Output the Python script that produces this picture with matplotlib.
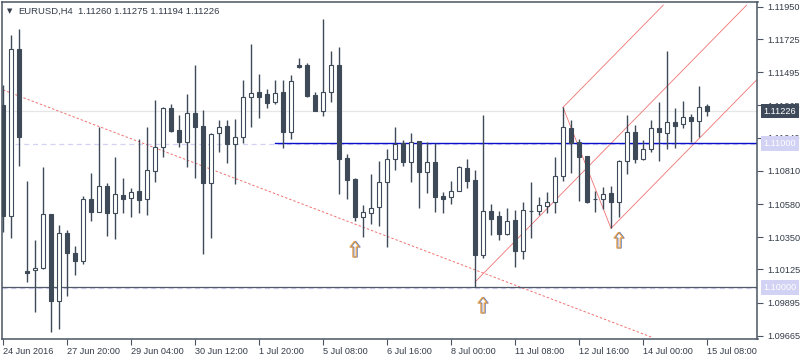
import matplotlib
matplotlib.use("Agg")
import matplotlib.pyplot as plt
import matplotlib.transforms as mtransforms
import numpy as np

# EURUSD H4 candles, 24 Jun 12:00 -> 15 Jul 08:00
opens = [1.11268, 1.10499, 1.11655, 1.10115, 1.10124, 1.10133, 1.10509, 1.09908, 1.10377, 1.10238,
         1.10186, 1.10613, 1.10527, 1.10705, 1.10520, 1.10643, 1.10620, 1.10671, 1.10613, 1.10812,
         1.10974, 1.11245, 1.11095, 1.11013, 1.11211, 1.11122, 1.10724, 1.11072, 1.11122, 1.10995,
         1.11048, 1.11322, 1.11357, 1.11343, 1.11287, 1.11357, 1.11083, 1.11546, 1.11546, 1.11338,
         1.11229, 1.11361, 1.11546, 1.10898, 1.10754, 1.10492, 1.10520, 1.10557, 1.10735, 1.10891,
         1.11002, 1.10874, 1.11018, 1.10805, 1.10870, 1.10636, 1.10627, 1.10673, 1.10828, 1.10747,
         1.10226, 1.10532, 1.10497, 1.10372, 1.10469, 1.10256, 1.10534, 1.10532, 1.10569, 1.10592,
         1.10775, 1.11111, 1.11013, 1.10914, 1.10615, 1.10613, 1.10655, 1.10592, 1.10879, 1.11079,
         1.10891, 1.10960, 1.11106, 1.11072, 1.11148, 1.11134, 1.11187, 1.11159, 1.11260]
highs = [1.11407, 1.11755, 1.11797, 1.10740, 1.10330, 1.10835, 1.10512, 1.10434, 1.10400, 1.10288,
         1.10636, 1.10798, 1.11113, 1.10728, 1.10907, 1.10763, 1.10694, 1.11030, 1.11118, 1.11303,
         1.11257, 1.11275, 1.11199, 1.11345, 1.11546, 1.11234, 1.11076, 1.11164, 1.11164, 1.11169,
         1.11442, 1.11692, 1.11484, 1.11377, 1.11442, 1.11442, 1.11477, 1.11597, 1.11562, 1.11357,
         1.11866, 1.11644, 1.11669, 1.10926, 1.10759, 1.10573, 1.10789, 1.10879, 1.10963, 1.11118,
         1.11025, 1.11076, 1.11018, 1.11013, 1.11002, 1.10666, 1.10740, 1.10844, 1.10891, 1.10817,
         1.11199, 1.10580, 1.10534, 1.10550, 1.10539, 1.10596, 1.10735, 1.10631, 1.10662, 1.10909,
         1.11257, 1.11164, 1.11030, 1.10914, 1.10671, 1.10701, 1.10705, 1.10886, 1.11199, 1.11129,
         1.11025, 1.11164, 1.11287, 1.11644, 1.11245, 1.11296, 1.11204, 1.11400, 1.11275]
lows = [1.10388, 1.10344, 1.10847, 1.10040, 1.09832, 1.10130, 1.09693, 1.09710, 1.09943, 1.10087,
        1.10163, 1.10464, 1.10525, 1.10358, 1.10337, 1.10516, 1.10488, 1.10520, 1.10504, 1.10735,
        1.10909, 1.11083, 1.10979, 1.10840, 1.10763, 1.10233, 1.10346, 1.10944, 1.10867, 1.10717,
        1.11006, 1.11118, 1.11180, 1.11250, 1.11273, 1.10972, 1.11032, 1.11523, 1.11326, 1.11229,
        1.11192, 1.11291, 1.10650, 1.10615, 1.10464, 1.10353, 1.10441, 1.10430, 1.10284, 1.10817,
        1.10847, 1.10735, 1.10555, 1.10659, 1.10527, 1.10520, 1.10580, 1.10673, 1.10694, 1.10006,
        1.10203, 1.10365, 1.10330, 1.10365, 1.10145, 1.10198, 1.10346, 1.10504, 1.10520, 1.10516,
        1.10742, 1.10794, 1.10603, 1.10589, 1.10527, 1.10543, 1.10411, 1.10488, 1.10787, 1.10867,
        1.10884, 1.10944, 1.10881, 1.10960, 1.10972, 1.11111, 1.11013, 1.11048, 1.11194]
closes = [1.10499, 1.11655, 1.11048, 1.10103, 1.10138, 1.10509, 1.09908, 1.10377, 1.10242, 1.10186,
          1.10613, 1.10527, 1.10705, 1.10520, 1.10650, 1.10615, 1.10666, 1.10608, 1.10817, 1.10974,
          1.11245, 1.11090, 1.11013, 1.11211, 1.11118, 1.10724, 1.11065, 1.11118, 1.10995, 1.11048,
          1.11322, 1.11354, 1.11326, 1.11284, 1.11350, 1.11083, 1.11435, 1.11535, 1.11331, 1.11229,
          1.11357, 1.11546, 1.10893, 1.10747, 1.10492, 1.10523, 1.10550, 1.10735, 1.10891, 1.10997,
          1.10874, 1.11013, 1.10805, 1.10870, 1.10631, 1.10617, 1.10673, 1.10835, 1.10742, 1.10226,
          1.10532, 1.10476, 1.10372, 1.10462, 1.10256, 1.10539, 1.10530, 1.10573, 1.10592, 1.10775,
          1.11113, 1.11002, 1.10909, 1.10596, 1.10612, 1.10648, 1.10592, 1.10879, 1.11079, 1.10891,
          1.10960, 1.11106, 1.11079, 1.11148, 1.11125, 1.11187, 1.11159, 1.11257, 1.11226]

xtick_pos = [0, 8, 16, 24, 32, 40, 48, 56, 64, 72, 80, 88]
xtick_labels = ["24 Jun 2016", "27 Jun 20:00", "29 Jun 04:00", "30 Jun 12:00", "1 Jul 20:00",
                "5 Jul 08:00", "6 Jul 16:00", "8 Jul 00:00", "11 Jul 08:00", "12 Jul 16:00",
                "14 Jul 00:00", "15 Jul 08:00"]
ytick_vals = [1.11950, 1.11725, 1.11495, 1.11265, 1.11040, 1.10810, 1.10580,
              1.10350, 1.10125, 1.09895, 1.09665]

bid = 1.11226
level_hi = 1.11000
level_lo = 1.10000
blue_start = 34

# descending trend line (two anchor points)
trend_x = [0, 81.25]
trend_p = [1.11373, 1.09651]

# pitchfork pivots A, B, C
fork_x = [59, 70, 76]
fork_p = [1.10038, 1.11252, 1.10411]

# up arrows
arrow_x = [44, 60, 77]
arrow_p = [1.10268, 1.09878, 1.10330]

DARK = "#3f4a59"
FRAME = "#4a5561"
TXT = "#333c48"
LAV = "#d2d2f4"
RED = "#f07272"

plt.rcParams["font.family"] = ["Liberation Sans", "DejaVu Sans"]

fig = plt.figure(figsize=(8, 3.6), dpi=100)
ax = fig.add_axes([2 / 800, 21 / 360, 755.5 / 800, 337 / 360])
YMIN, YMAX = 1.09642, 1.11984
XMIN, XMAX = -0.125, 94.31
ax.set_xlim(XMIN, XMAX)
ax.set_ylim(YMIN, YMAX)

# horizontal levels
ax.axhline(bid, color="#e6e6e6", lw=0.9, zorder=1)
ax.plot([1.5, XMAX], [level_hi - 0.00004] * 2, color=LAV, lw=0.9, ls=(0, (4, 3)), zorder=1)
ax.plot([blue_start, XMAX], [level_hi + 0.00004] * 2, color="#0a10c8", lw=1.0, zorder=2)
ax.plot([XMIN, XMAX], [level_lo - 0.00004] * 2, color=LAV, lw=0.9, ls=(0, (4, 3)), zorder=1)
ax.plot([XMIN, XMAX], [level_lo + 0.00004] * 2, color="#505a68", lw=0.9, zorder=2)

# trend line
ax.plot(trend_x, trend_p, color=RED, lw=0.7, ls=(0, (2.5, 2)), zorder=1)

# pitchfork
ax_, bx, cx = fork_x
ap, bp, cp = fork_p
mid_x = (bx + cx) / 2
mid_p = (bp + cp) / 2
slope = (mid_p - ap) / (mid_x - ax_)
top_p = 1.11962


def ray(x0, p0):
    x1 = x0 + (top_p - p0) / slope
    if x1 > XMAX:
        x1 = XMAX
    return [x0, x1], [p0, p0 + slope * (x1 - x0)]


for x0, p0 in [(ax_, ap), (bx, bp), (cx, cp)]:
    xs, ps = ray(x0, p0)
    ax.plot(xs, ps, color=RED, lw=0.6, zorder=1)
ax.plot([bx, cx], [bp, cp], color=RED, lw=0.6, zorder=1)

# candles
x = np.arange(len(opens))
o = np.array(opens)
c = np.array(closes)
ax.vlines(x, lows, highs, color=DARK, lw=1.0, zorder=3)
bottoms = np.minimum(o, c)
heights = np.maximum(np.abs(c - o), 0.00002)
faces = [DARK if cc < oo else "white" for oo, cc in zip(o, c)]
ax.bar(x, heights, bottom=bottoms, width=0.62, color=faces, edgecolor=DARK,
       linewidth=0.8, zorder=4)

# arrows
arrow = [(0, 1), (0.55, 0.3), (0.2, 0.3), (0.2, -0.9), (-0.2, -0.9), (-0.2, 0.3), (-0.55, 0.3), (0, 1)]
ax.plot(arrow_x, arrow_p, marker=arrow, ms=12, mfc="white", mec="#5a78b8", mew=0.8, ls="none", zorder=5)
shift = ax.transData + mtransforms.ScaledTranslation(-0.8 / 100, 0.4 / 100, fig.dpi_scale_trans)
ax.plot(arrow_x, arrow_p, marker=arrow, ms=12, mfc="none", mec="#f0a040", mew=0.8, ls="none",
        zorder=5, transform=shift)

# axes styling
for s in ax.spines.values():
    s.set_color(FRAME)
    s.set_linewidth(1.1)
ax.yaxis.tick_right()
ax.set_yticks(ytick_vals)
ax.set_yticklabels(["%.5f" % v for v in ytick_vals])
ax.set_xticks(xtick_pos)
ax.set_xticklabels(xtick_labels, ha="left")
ax.tick_params(axis="both", colors=FRAME, labelcolor=TXT, labelsize=6.6, length=4, width=0.8)
ax.tick_params(axis="y", pad=3)
ax.tick_params(axis="x", pad=2)

# price boxes on the right (drawn over the axis labels, as in the terminal)
blend = mtransforms.blended_transform_factory(ax.transAxes, ax.transData)
for val, fc, tc in [(bid, "#3e4a5a", "white"), (level_hi, LAV, "white"), (level_lo, LAV, "white")]:
    ax.text(1.0 + 6 / 755.5, val, "%.5f" % val, transform=blend, ha="left", va="center",
            fontsize=6.6, color=tc, clip_on=False, zorder=10,
            bbox=dict(boxstyle="square,pad=0.3", fc=fc, ec="none"))

# title
fig.text(7 / 800, 1 - 11 / 360, "\u25bc", fontsize=5, color=TXT, va="center",
         family=["DejaVu Sans"])
fig.text(18 / 800, 1 - 11 / 360, "EURUSD,H4", fontsize=6.8, color=TXT, va="center")
fig.text(78 / 800, 1 - 11 / 360, "1.11260 1.11275 1.11194 1.11226", fontsize=6.8,
         color=TXT, va="center")

fig.savefig("out.png", dpi=100, facecolor="white")
